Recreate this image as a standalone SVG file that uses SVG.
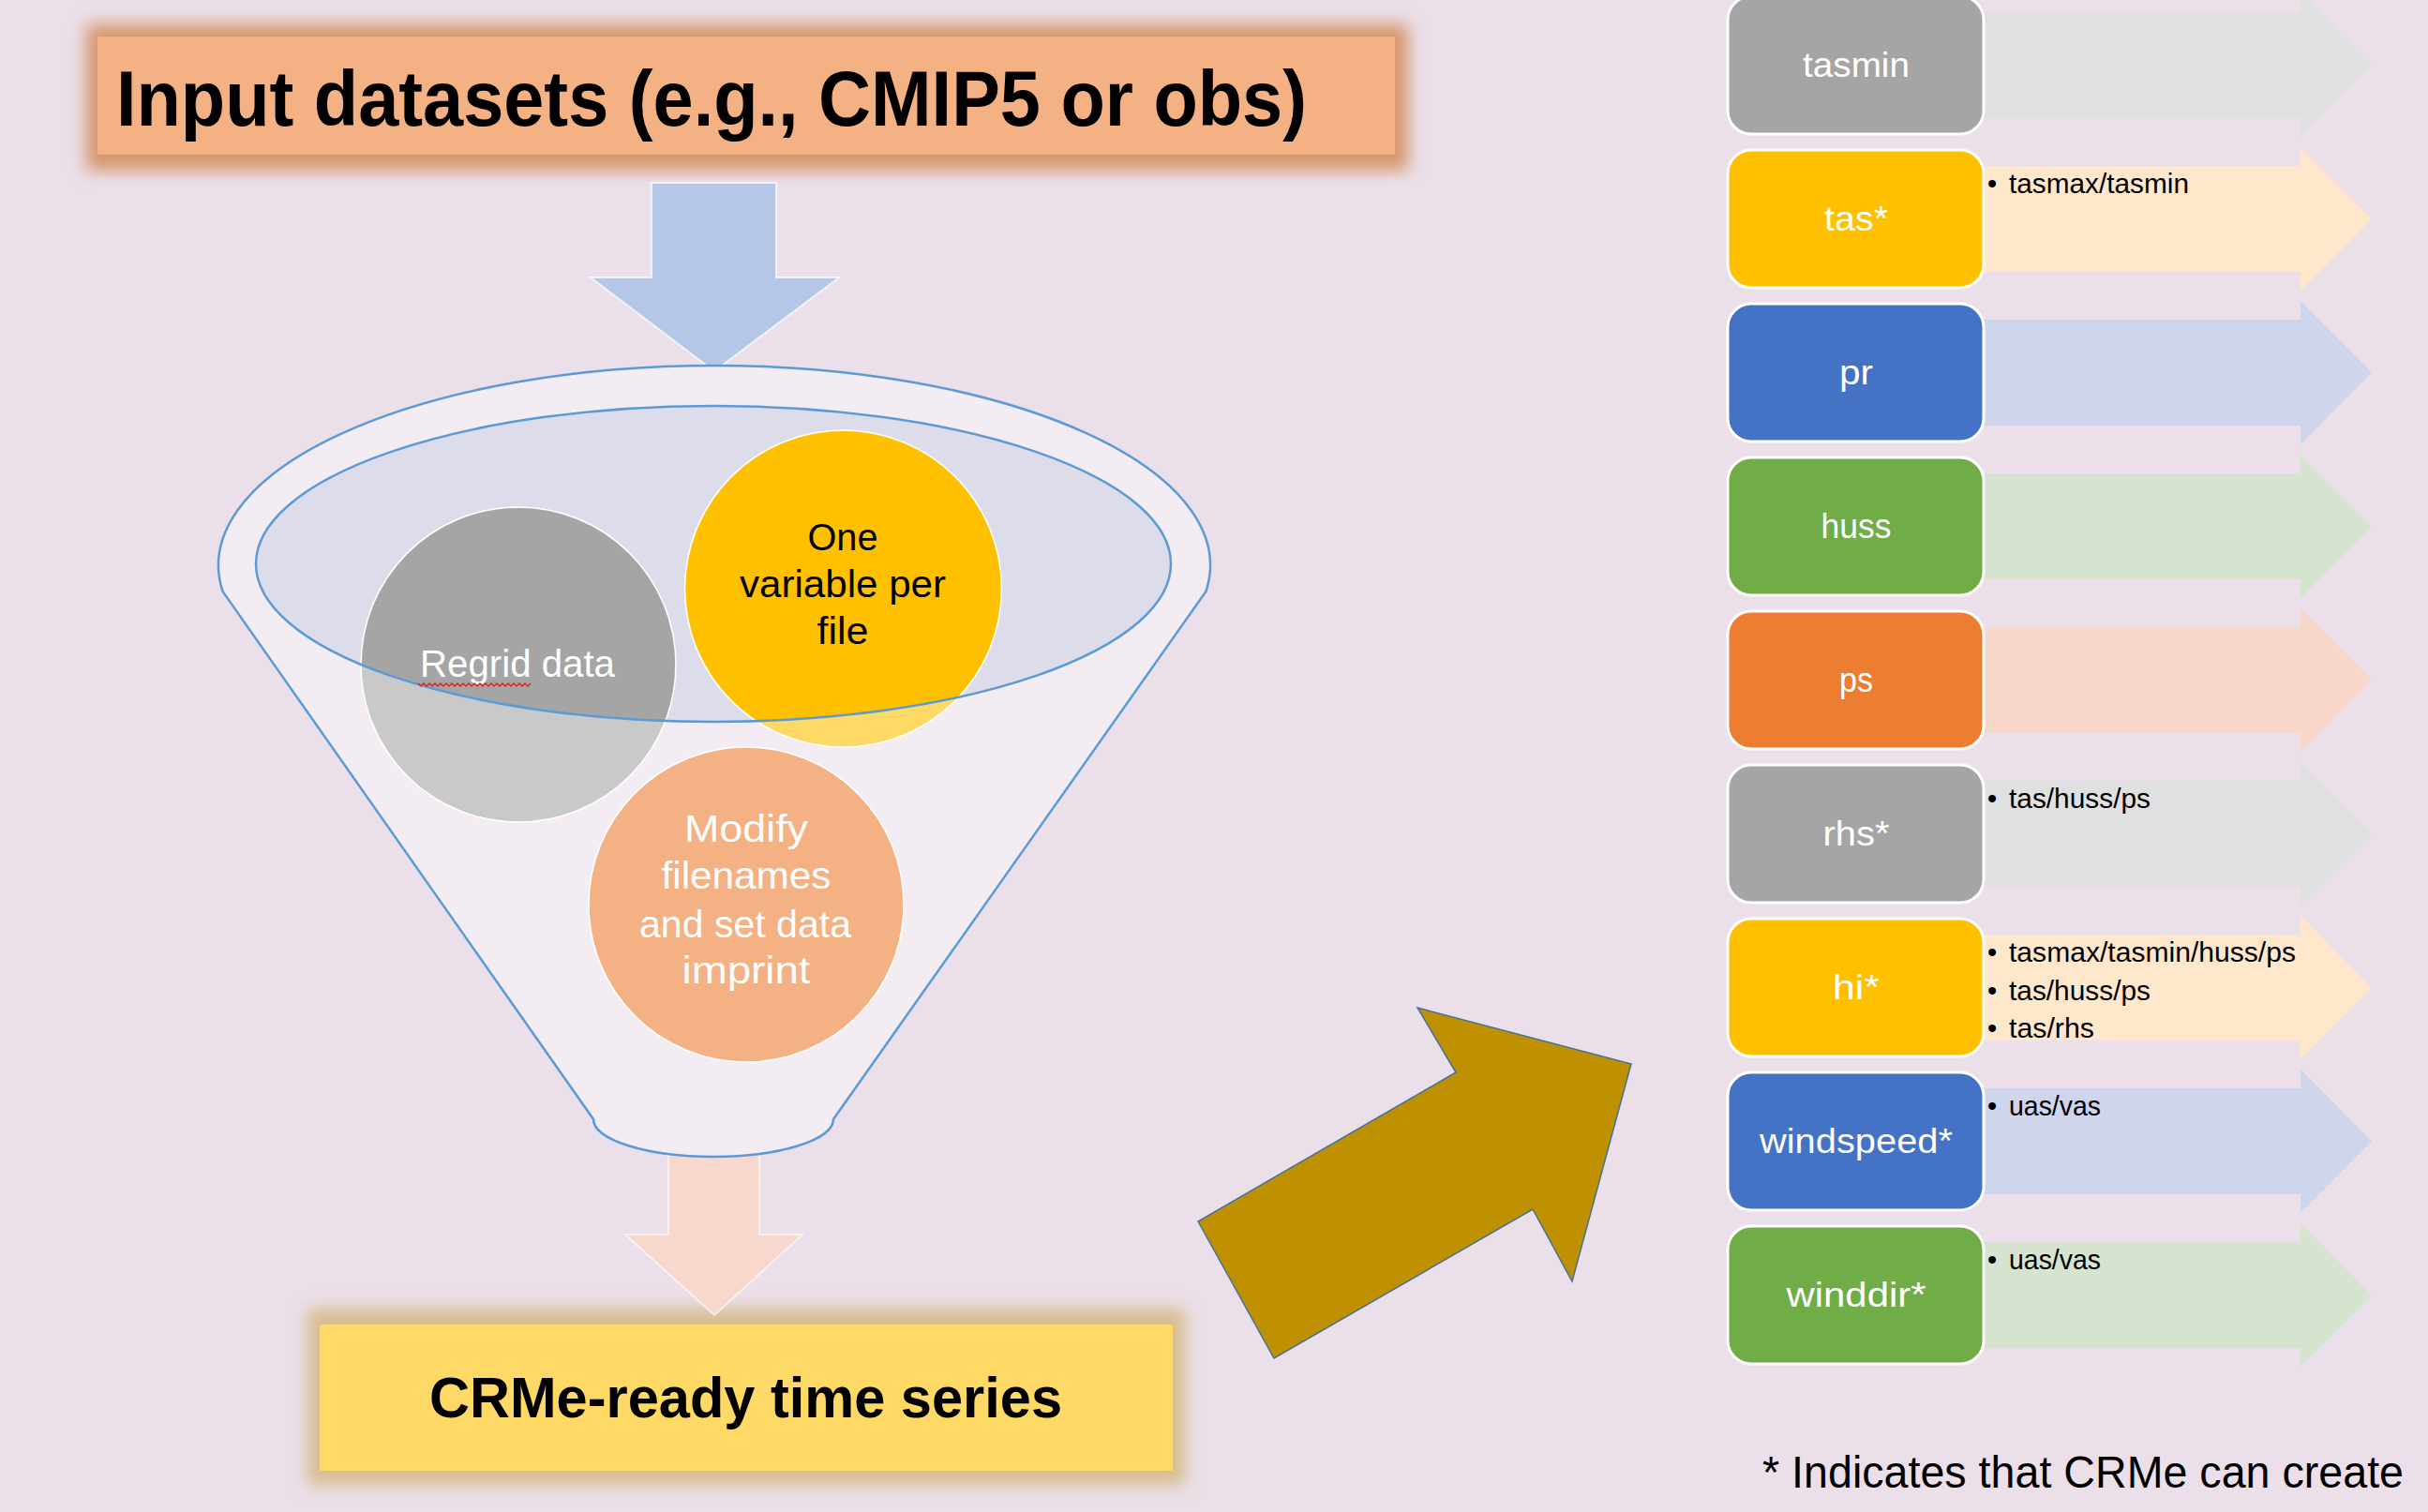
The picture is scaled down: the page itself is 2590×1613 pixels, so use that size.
<svg xmlns="http://www.w3.org/2000/svg" width="2590" height="1613" viewBox="0 0 2590 1613">
  <style>
    .bg { fill: #ebdfe9; }
    .funnel { fill: #f4ecf3; stroke: #5b9bd5; stroke-width: 2.5; }
    .rim { fill: none; stroke: #5b9bd5; stroke-width: 2.5; }
    .circ { stroke: #ffffff; stroke-width: 1.5; }
    .ctext { font-family: "Liberation Sans", Arial, sans-serif; font-size: 40px; text-anchor: middle; }
    .box { stroke: #ffffff; stroke-width: 3; }
    .blabel { font-family: "Liberation Sans", Arial, sans-serif; font-size: 37px; fill: #ffffff; text-anchor: middle; }
    .bullet { font-family: "Liberation Sans", Arial, sans-serif; font-size: 29px; fill: #000000; }
    .head { font-family: "Liberation Sans", Arial, sans-serif; font-weight: bold; fill: #000000; }
    .gray { fill: #a5a5a5; }
    .yellow { fill: #ffc000; }
    .blue { fill: #4472c4; }
    .green { fill: #70ad47; }
    .orange { fill: #ed7d31; }
    .a-gray { fill: #e0e0e0; }
    .a-yellow { fill: #ffe7cc; }
    .a-blue { fill: #cfd5ea; }
    .a-green { fill: #d6e3cf; }
    .a-orange { fill: #f8d7cb; }
  </style>
  <defs>
    <filter id="glow" x="-10%" y="-50%" width="120%" height="200%">
      <feGaussianBlur stdDeviation="9"/>
    </filter>
    <clipPath id="innerClip">
      <ellipse cx="761" cy="601.5" rx="488" ry="168.5"/>
    </clipPath>
  </defs>

  <rect class="bg" x="0" y="0" width="2590" height="1613"/>

  <!-- Title node -->
  <g id="input-datasets">
    <rect x="106" y="188" width="1400" height="104" fill="#ffffff" opacity="0.09"/>
    <rect x="92" y="26" width="1410" height="156" fill="#d5956a" filter="url(#glow)"/>
    <rect x="104" y="39" width="1384" height="126" fill="#f4b183"/>
    <text class="head" x="124" y="134" font-size="84" textLength="1270" lengthAdjust="spacingAndGlyphs">Input datasets (e.g., CMIP5 or obs)</text>
  </g>

  <!-- Output node -->
  <g id="crme-ready">
    <rect x="328" y="1396" width="936" height="188" fill="#d6bd8c" filter="url(#glow)"/>
    <rect x="341" y="1413" width="910" height="156" fill="#ffd966"/>
    <text class="head" x="458" y="1512" font-size="62" textLength="675" lengthAdjust="spacingAndGlyphs">CRMe-ready time series</text>
  </g>

  <!-- Connectors -->
  <g id="connectors">
    <polygon points="695,195 828,195 828,296 895,296 762,396 630,296 695,296" fill="#b4c7e7" stroke="#ffffff" stroke-opacity="0.7" stroke-width="2"/>
    <polygon points="713,1200 810,1200 810,1317 856,1317 762,1403 667,1317 713,1317" fill="#f8d8cc" stroke="#ffffff" stroke-opacity="0.6" stroke-width="2"/>
    <polygon points="1278,1303 1359,1449 1635,1290 1677,1367 1740,1135 1512,1075 1553,1144" fill="#bf9000" stroke="#41719c" stroke-width="1.5"/>
  </g>

  <!-- Funnel node -->
  <g id="funnel">
    <path class="funnel" d="M237.6 631 A529 213 0 1 1 1286.4 631 L889 1194 A128 40 0 0 1 633 1194 Z"/>
    <ellipse cx="761" cy="601.5" rx="488" ry="168.5" fill="#dcdcea"/>
  </g>

  <g id="regrid-data">
    <circle class="circ" cx="553" cy="709" r="168" fill="#c9c9c9"/>
    <circle cx="553" cy="709" r="167" fill="#a5a5a5" clip-path="url(#innerClip)"/>
  </g>
  <g id="one-variable-per-file">
    <circle class="circ" cx="899.5" cy="628" r="169" fill="#ffd966"/>
    <circle cx="899.5" cy="628" r="168" fill="#ffc000" clip-path="url(#innerClip)"/>
  </g>
  <g id="modify-filenames">
    <circle class="circ" cx="796" cy="965" r="168" fill="#f4b183"/>
  </g>

  <g id="funnel-rim">
    <ellipse class="rim" cx="761" cy="601.5" rx="488" ry="168.5"/>
  </g>

  <g id="circle-texts">
    <text class="ctext" x="552" y="722" fill="#ffffff" textLength="208" lengthAdjust="spacingAndGlyphs">Regrid data</text>
    <path d="M446 729 l3 3 l3 -3 l3 3 l3 -3 l3 3 l3 -3 l3 3 l3 -3 l3 3 l3 -3 l3 3 l3 -3 l3 3 l3 -3 l3 3 l3 -3 l3 3 l3 -3 l3 3 l3 -3 l3 3 l3 -3 l3 3 l3 -3 l3 3 l3 -3 l3 3 l3 -3 l3 3 l3 -3 l3 3 l3 -3 l3 3 l3 -3 l3 3 l3 -3 l3 3 l3 -3 l3 3 l3 -3" fill="none" stroke="#e02020" stroke-width="1.5"/>
    <text class="ctext" x="899" y="587" fill="#000000" textLength="75" lengthAdjust="spacingAndGlyphs">One</text>
    <text class="ctext" x="899" y="637" fill="#000000" textLength="220" lengthAdjust="spacingAndGlyphs">variable per</text>
    <text class="ctext" x="899" y="687" fill="#000000" textLength="55" lengthAdjust="spacingAndGlyphs">file</text>
    <text class="ctext" x="796" y="898" fill="#ffffff" textLength="132" lengthAdjust="spacingAndGlyphs">Modify</text>
    <text class="ctext" x="796" y="948" fill="#ffffff" textLength="181" lengthAdjust="spacingAndGlyphs">filenames</text>
    <text class="ctext" x="795" y="1000" fill="#ffffff" textLength="226" lengthAdjust="spacingAndGlyphs">and set data</text>
    <text class="ctext" x="796" y="1049" fill="#ffffff" textLength="137" lengthAdjust="spacingAndGlyphs">imprint</text>
  </g>

  <!-- Variable nodes -->
  <g id="var-tasmin">
    <polygon class="a-gray" points="2100,13 2454,13 2454,-7 2530,69.5 2454,146 2454,126 2100,126"/>
    <rect class="box gray" x="1843" y="-4" width="273" height="147" rx="25"/>
    <text class="blabel" x="1980" y="82" textLength="114" lengthAdjust="spacingAndGlyphs">tasmin</text>
  </g>
  <g id="var-tas">
    <polygon class="a-yellow" points="2100,177 2454,177 2454,157 2530,233.5 2454,310 2454,290 2100,290"/>
    <rect class="box yellow" x="1843" y="160" width="273" height="147" rx="25"/>
    <text class="blabel" x="1980" y="246" textLength="68" lengthAdjust="spacingAndGlyphs">tas*</text>
    <text class="bullet" x="2120" y="206">•</text>
    <text class="bullet" x="2143" y="206" textLength="192" lengthAdjust="spacingAndGlyphs">tasmax/tasmin</text>
  </g>
  <g id="var-pr">
    <polygon class="a-blue" points="2100,341 2454,341 2454,321 2530,397.5 2454,474 2454,454 2100,454"/>
    <rect class="box blue" x="1843" y="324" width="273" height="147" rx="25"/>
    <text class="blabel" x="1980" y="410" textLength="36" lengthAdjust="spacingAndGlyphs">pr</text>
  </g>
  <g id="var-huss">
    <polygon class="a-green" points="2100,505 2454,505 2454,485 2530,561.5 2454,638 2454,618 2100,618"/>
    <rect class="box green" x="1843" y="488" width="273" height="147" rx="25"/>
    <text class="blabel" x="1980" y="574" textLength="75" lengthAdjust="spacingAndGlyphs">huss</text>
  </g>
  <g id="var-ps">
    <polygon class="a-orange" points="2100,669 2454,669 2454,649 2530,725.5 2454,802 2454,782 2100,782"/>
    <rect class="box orange" x="1843" y="652" width="273" height="147" rx="25"/>
    <text class="blabel" x="1980" y="738" textLength="36" lengthAdjust="spacingAndGlyphs">ps</text>
  </g>
  <g id="var-rhs">
    <polygon class="a-gray" points="2100,833 2454,833 2454,813 2530,889.5 2454,966 2454,946 2100,946"/>
    <rect class="box gray" x="1843" y="816" width="273" height="147" rx="25"/>
    <text class="blabel" x="1980" y="902" textLength="71" lengthAdjust="spacingAndGlyphs">rhs*</text>
    <text class="bullet" x="2120" y="862">•</text>
    <text class="bullet" x="2143" y="862" textLength="151" lengthAdjust="spacingAndGlyphs">tas/huss/ps</text>
  </g>
  <g id="var-hi">
    <polygon class="a-yellow" points="2100,997 2454,997 2454,977 2530,1053.5 2454,1130 2454,1110 2100,1110"/>
    <rect class="box yellow" x="1843" y="980" width="273" height="147" rx="25"/>
    <text class="blabel" x="1980" y="1066" textLength="50" lengthAdjust="spacingAndGlyphs">hi*</text>
    <text class="bullet" x="2120" y="1026">•</text>
    <text class="bullet" x="2143" y="1026" textLength="306" lengthAdjust="spacingAndGlyphs">tasmax/tasmin/huss/ps</text>
    <text class="bullet" x="2120" y="1067">•</text>
    <text class="bullet" x="2143" y="1067" textLength="151" lengthAdjust="spacingAndGlyphs">tas/huss/ps</text>
    <text class="bullet" x="2120" y="1107">•</text>
    <text class="bullet" x="2143" y="1107" textLength="91" lengthAdjust="spacingAndGlyphs">tas/rhs</text>
  </g>
  <g id="var-windspeed">
    <polygon class="a-blue" points="2100,1161 2454,1161 2454,1141 2530,1217.5 2454,1294 2454,1274 2100,1274"/>
    <rect class="box blue" x="1843" y="1144" width="273" height="147" rx="25"/>
    <text class="blabel" x="1980" y="1230" textLength="206" lengthAdjust="spacingAndGlyphs">windspeed*</text>
    <text class="bullet" x="2120" y="1190">•</text>
    <text class="bullet" x="2143" y="1190" textLength="98" lengthAdjust="spacingAndGlyphs">uas/vas</text>
  </g>
  <g id="var-winddir">
    <polygon class="a-green" points="2100,1325 2454,1325 2454,1305 2530,1381.5 2454,1458 2454,1438 2100,1438"/>
    <rect class="box green" x="1843" y="1308" width="273" height="147" rx="25"/>
    <text class="blabel" x="1980" y="1394" textLength="149" lengthAdjust="spacingAndGlyphs">winddir*</text>
    <text class="bullet" x="2120" y="1354">•</text>
    <text class="bullet" x="2143" y="1354" textLength="98" lengthAdjust="spacingAndGlyphs">uas/vas</text>
  </g>

  <g id="footnote">
    <text x="1880" y="1587" font-family="Liberation Sans, Arial, sans-serif" font-size="48" fill="#000000" textLength="684" lengthAdjust="spacingAndGlyphs">* Indicates that CRMe can create</text>
  </g>
</svg>
